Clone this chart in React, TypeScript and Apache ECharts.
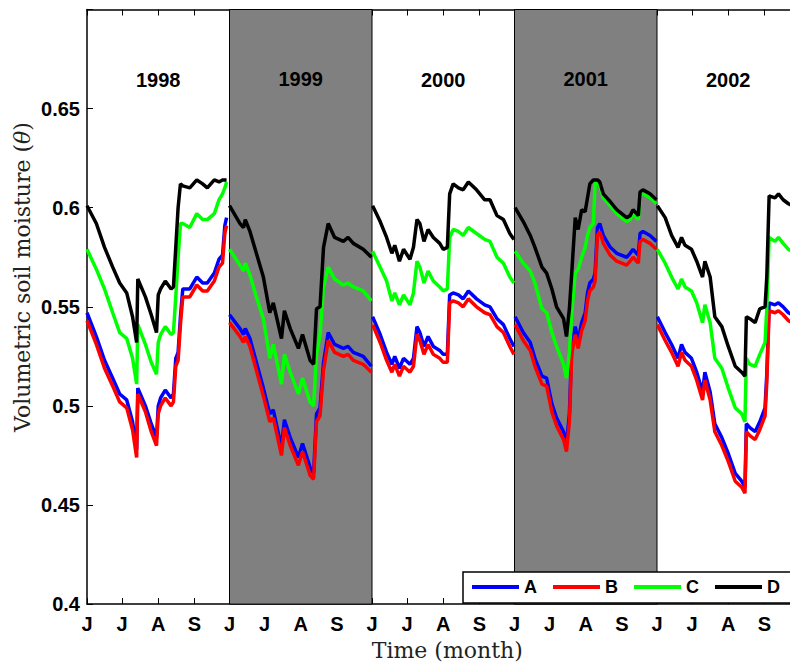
import React, { useEffect, useRef } from 'react';
import * as echarts from 'echarts';

const years = ['1998', '1999', '2000', '2001', '2002'];
const shadedYears = ['1999', '2001'];
const SEASON_DAYS = 122; // 1 June – 30 September
const monthTickDays = [0, 30, 61, 92];
const monthLetters = ['J', 'J', 'A', 'S'];
const seriesNames = ['A', 'B', 'C', 'D'];
const seriesColors = ['#0000ff', '#ff0000', '#00ff00', '#000000'];
const yTicks = [0.4, 0.45, 0.5, 0.55, 0.6, 0.65];

// days since 1 June for each year's readings
const days1998 = [0, 8, 15, 22, 28, 34, 39, 42.5, 43.5, 50, 55, 59.5, 61, 63, 67, 72, 74, 76, 78, 80, 82, 88, 94, 99, 103, 109, 113, 116, 118, 119.5];
const a1998 = [0.547, 0.535, 0.523, 0.514, 0.506, 0.503, 0.492, 0.478, 0.509, 0.500, 0.491, 0.484, 0.500, 0.504, 0.508, 0.504, 0.506, 0.524, 0.527, 0.545, 0.559, 0.559, 0.565, 0.562, 0.562, 0.567, 0.574, 0.576, 0.591, 0.595];
const b1998 = [0.543, 0.531, 0.519, 0.510, 0.502, 0.499, 0.488, 0.474, 0.506, 0.497, 0.487, 0.480, 0.496, 0.500, 0.504, 0.500, 0.502, 0.520, 0.523, 0.541, 0.555, 0.555, 0.561, 0.558, 0.558, 0.563, 0.570, 0.572, 0.587, 0.591];
const c1998 = [0.579, 0.569, 0.559, 0.547, 0.537, 0.534, 0.524, 0.511, 0.541, 0.531, 0.522, 0.516, 0.532, 0.536, 0.540, 0.536, 0.537, 0.555, 0.575, 0.592, 0.592, 0.590, 0.597, 0.594, 0.594, 0.597, 0.604, 0.607, 0.610, 0.613];
const d1998 = [0.601, 0.592, 0.580, 0.570, 0.562, 0.557, 0.545, 0.532, 0.564, 0.555, 0.546, 0.537, 0.556, 0.559, 0.563, 0.559, 0.560, 0.580, 0.600, 0.612, 0.611, 0.610, 0.614, 0.612, 0.610, 0.614, 0.613, 0.614, 0.614, 0.614];

const days1999 = [0, 9, 12, 13.5, 17.5, 23, 29, 34.5, 37.5, 44.5, 47, 52, 59, 62.5, 69, 72, 74.5, 77.5, 80.5, 84.5, 90, 97.5, 101.5, 106, 114.5, 121.5];
const a1999 = [0.546, 0.539, 0.536, 0.539, 0.534, 0.522, 0.509, 0.496, 0.498, 0.479, 0.493, 0.484, 0.474, 0.481, 0.469, 0.466, 0.496, 0.499, 0.522, 0.537, 0.531, 0.529, 0.530, 0.527, 0.525, 0.520];
const b1999 = [0.542, 0.535, 0.532, 0.535, 0.530, 0.518, 0.505, 0.492, 0.494, 0.475, 0.489, 0.480, 0.470, 0.477, 0.465, 0.463, 0.492, 0.495, 0.518, 0.533, 0.527, 0.525, 0.526, 0.523, 0.521, 0.517];
const c1999 = [0.579, 0.571, 0.568, 0.572, 0.566, 0.555, 0.544, 0.524, 0.531, 0.511, 0.526, 0.517, 0.506, 0.514, 0.502, 0.500, 0.526, 0.536, 0.560, 0.570, 0.564, 0.561, 0.562, 0.560, 0.558, 0.553];
const d1999 = [0.601, 0.592, 0.590, 0.594, 0.588, 0.577, 0.565, 0.547, 0.552, 0.534, 0.548, 0.539, 0.529, 0.536, 0.523, 0.521, 0.549, 0.550, 0.580, 0.592, 0.585, 0.583, 0.585, 0.582, 0.579, 0.575];

const days2000 = [0.5, 7, 12.5, 17, 19.5, 23.5, 27, 32.5, 35.5, 38.5, 41, 44.5, 48, 52.5, 58, 61, 64.5, 66.5, 69.5, 74, 78, 82.5, 89.5, 96.5, 101, 107, 112.5, 118, 121.5];
const a2000 = [0.545, 0.536, 0.527, 0.521, 0.525, 0.519, 0.524, 0.521, 0.524, 0.540, 0.537, 0.530, 0.535, 0.530, 0.528, 0.526, 0.526, 0.556, 0.557, 0.556, 0.554, 0.558, 0.554, 0.551, 0.550, 0.544, 0.541, 0.534, 0.530];
const b2000 = [0.541, 0.532, 0.523, 0.517, 0.521, 0.515, 0.520, 0.517, 0.520, 0.536, 0.533, 0.526, 0.531, 0.526, 0.524, 0.522, 0.522, 0.552, 0.553, 0.552, 0.550, 0.554, 0.550, 0.547, 0.546, 0.540, 0.537, 0.530, 0.526];
const c2000 = [0.578, 0.570, 0.563, 0.553, 0.557, 0.551, 0.556, 0.551, 0.557, 0.573, 0.570, 0.562, 0.568, 0.563, 0.560, 0.558, 0.559, 0.585, 0.589, 0.588, 0.586, 0.590, 0.587, 0.584, 0.583, 0.575, 0.572, 0.565, 0.562];
const d2000 = [0.601, 0.593, 0.585, 0.577, 0.581, 0.573, 0.579, 0.574, 0.580, 0.594, 0.592, 0.583, 0.589, 0.585, 0.582, 0.579, 0.580, 0.607, 0.612, 0.610, 0.609, 0.613, 0.609, 0.604, 0.604, 0.596, 0.594, 0.587, 0.584];

const days2001 = [0.5, 7.5, 13.5, 17.5, 23.5, 27.5, 32, 36, 42, 44.5, 47, 49, 52, 54.5, 57.5, 60.5, 62.5, 64.5, 67.5, 69, 71, 73, 76, 82, 87.5, 96, 99, 101.5, 106, 107.5, 110, 116, 121.5];
const a2001 = [0.545, 0.537, 0.532, 0.524, 0.515, 0.514, 0.501, 0.494, 0.487, 0.481, 0.496, 0.530, 0.540, 0.533, 0.542, 0.547, 0.557, 0.562, 0.564, 0.567, 0.590, 0.592, 0.586, 0.580, 0.577, 0.575, 0.577, 0.579, 0.576, 0.587, 0.588, 0.586, 0.583];
const b2001 = [0.541, 0.533, 0.528, 0.520, 0.511, 0.510, 0.497, 0.490, 0.483, 0.477, 0.492, 0.526, 0.536, 0.529, 0.538, 0.543, 0.553, 0.558, 0.560, 0.563, 0.586, 0.588, 0.582, 0.576, 0.573, 0.571, 0.573, 0.575, 0.572, 0.583, 0.584, 0.582, 0.579];
const c2001 = [0.578, 0.572, 0.568, 0.562, 0.549, 0.547, 0.537, 0.530, 0.521, 0.514, 0.527, 0.547, 0.567, 0.569, 0.575, 0.580, 0.586, 0.590, 0.592, 0.612, 0.613, 0.611, 0.605, 0.601, 0.597, 0.593, 0.594, 0.597, 0.594, 0.606, 0.607, 0.605, 0.602];
const d2001 = [0.600, 0.593, 0.586, 0.580, 0.570, 0.567, 0.559, 0.550, 0.544, 0.535, 0.549, 0.567, 0.595, 0.589, 0.599, 0.598, 0.605, 0.612, 0.614, 0.614, 0.614, 0.613, 0.607, 0.603, 0.599, 0.595, 0.596, 0.599, 0.596, 0.608, 0.609, 0.607, 0.604];

const days2002 = [0.3, 7, 12.5, 18, 21, 24, 29.5, 34, 39, 41, 45.5, 49.5, 55.5, 61, 67, 72.5, 75.3, 76.5, 79.5, 84, 88, 92.5, 94, 96, 101, 104, 108, 112.5, 116];
const a2002 = [0.545, 0.537, 0.531, 0.524, 0.531, 0.527, 0.524, 0.517, 0.507, 0.517, 0.507, 0.491, 0.484, 0.476, 0.466, 0.462, 0.459, 0.491, 0.489, 0.487, 0.492, 0.499, 0.516, 0.552, 0.551, 0.552, 0.550, 0.547, 0.546];
const b2002 = [0.541, 0.533, 0.527, 0.520, 0.527, 0.523, 0.520, 0.513, 0.503, 0.513, 0.503, 0.487, 0.480, 0.472, 0.462, 0.459, 0.456, 0.487, 0.485, 0.483, 0.488, 0.495, 0.512, 0.548, 0.547, 0.548, 0.546, 0.543, 0.542];
const c2002 = [0.579, 0.572, 0.565, 0.559, 0.564, 0.560, 0.558, 0.552, 0.542, 0.551, 0.542, 0.524, 0.519, 0.509, 0.499, 0.496, 0.492, 0.524, 0.521, 0.520, 0.526, 0.532, 0.549, 0.585, 0.583, 0.585, 0.582, 0.579, 0.578];
const d2002 = [0.601, 0.595, 0.586, 0.580, 0.585, 0.581, 0.579, 0.573, 0.565, 0.573, 0.565, 0.545, 0.540, 0.530, 0.520, 0.517, 0.515, 0.545, 0.544, 0.542, 0.549, 0.550, 0.565, 0.606, 0.605, 0.607, 0.604, 0.602, 0.601];

const yearDays = [days1998, days1999, days2000, days2001, days2002];
const seriesValues = [
  [a1998, a1999, a2000, a2001, a2002],
  [b1998, b1999, b2000, b2001, b2002],
  [c1998, c1999, c2000, c2001, c2002],
  [d1998, d1999, d2000, d2001, d2002],
];

const SANS = "'Liberation Sans', Arial, Helvetica, sans-serif";
const SERIF = "'DejaVu Serif', 'Liberation Serif', serif";

function buildData(perYear: number[][]) {
  const out: any[] = [];
  perYear.forEach((vals, i) => {
    const ds = yearDays[i];
    vals.forEach((v, k) => out.push([i * SEASON_DAYS + ds[k], v]));
    if (i < perYear.length - 1) out.push([(i + 1) * SEASON_DAYS, '-']);
  });
  return out;
}

const labelValues: number[] = [];
years.forEach((_, i) => monthTickDays.forEach((d) => labelValues.push(i * SEASON_DAYS + d)));
const tickValues: number[] = [...labelValues, years.length * SEASON_DAYS];

export default function App() {
  const ref = useRef<HTMLDivElement>(null);
  useEffect(() => {
    if (!ref.current) return;
    const chart = echarts.init(ref.current, null, { renderer: 'svg' });
    const xMax = years.length * SEASON_DAYS;
    const markData = years.map((y, i) => {
      const shaded = shadedYears.includes(y);
      return [
        {
          name: y,
          xAxis: i * SEASON_DAYS,
          yAxis: 0.4,
          itemStyle: shaded
            ? { color: '#808080', borderColor: '#000', borderWidth: 1 }
            : { color: 'rgba(0,0,0,0)', borderWidth: 0 },
        },
        { xAxis: (i + 1) * SEASON_DAYS, yAxis: 0.7 },
      ];
    });
    const labelFmt = (v: number) => {
      const d = Math.round(v) % SEASON_DAYS;
      const idx = monthTickDays.indexOf(d);
      return idx >= 0 ? monthLetters[idx] : '';
    };
    const option: any = {
      animation: false,
      backgroundColor: '#fff',
      grid: { left: 87, width: 712.5, top: 9.5, height: 603, containLabel: false },
      xAxis: [
        {
          type: 'value',
          min: 0,
          max: xMax,
          position: 'bottom',
          name: 'Time (month)',
          nameLocation: 'middle',
          nameGap: 32,
          nameTextStyle: { fontFamily: SERIF, fontSize: 22, color: '#222', padding: [0, 0, 0, 8] },
          axisLine: { show: true, lineStyle: { color: '#000', width: 1.5 } },
          axisTick: { show: true, inside: true, length: 6, customValues: tickValues, lineStyle: { color: '#000', width: 1 } },
          axisLabel: {
            show: true,
            customValues: labelValues,
            formatter: labelFmt,
            margin: 10,
            fontFamily: SANS,
            fontWeight: 'bold',
            fontSize: 20,
            color: '#000',
          },
          splitLine: { show: false },
        },
        {
          type: 'value',
          min: 0,
          max: xMax,
          position: 'top',
          axisLine: { show: true, lineStyle: { color: '#000', width: 1.5 } },
          axisTick: { show: true, inside: true, length: 6, customValues: tickValues, lineStyle: { color: '#000', width: 1 } },
          axisLabel: { show: false },
          splitLine: { show: false },
        },
      ],
      yAxis: {
        type: 'value',
        min: 0.4,
        max: 0.7,
        interval: 0.05,
        axisLine: { show: true, lineStyle: { color: '#000', width: 1.5 } },
        axisTick: { show: true, inside: true, length: 6, lineStyle: { color: '#000', width: 1 } },
        axisLabel: {
          margin: 7,
          fontFamily: SANS,
          fontWeight: 'bold',
          fontSize: 20,
          color: '#000',
          formatter: (v: number) => {
            const r = Math.round(v * 100) / 100;
            return yTicks.some((t) => Math.abs(t - r) < 1e-6) ? String(r) : '';
          },
        },
        splitLine: { show: false },
      },
      legend: {
        data: seriesNames,
        left: 463,
        top: 572,
        width: 360,
        orient: 'horizontal',
        icon: 'rect',
        itemWidth: 47,
        itemHeight: 4,
        itemGap: 16,
        padding: [6, 16, 7, 9],
        backgroundColor: '#fff',
        borderColor: '#000',
        borderWidth: 1.5,
        borderRadius: 0,
        textStyle: { fontFamily: SANS, fontWeight: 'bold', fontSize: 18, color: '#000' },
      },
      graphic: [
        {
          type: 'text',
          x: 22,
          y: 277,
          rotation: Math.PI / 2,
          silent: true,
          style: {
            text: '{n|Volumetric soil moisture (}{i|θ}{n|)}',
            textAlign: 'center',
            textVerticalAlign: 'middle',
            rich: {
              n: { fontFamily: SERIF, fontSize: 22, fill: '#222' },
              i: { fontFamily: SERIF, fontSize: 22, fontStyle: 'italic', fill: '#222' },
            },
          },
        },
      ],
      series: seriesNames.map((name, si) => {
        const s: any = {
          name,
          type: 'line',
          xAxisIndex: 0,
          data: buildData(seriesValues[si]),
          showSymbol: false,
          symbol: 'none',
          connectNulls: false,
          color: seriesColors[si],
          lineStyle: { color: seriesColors[si], width: 3.5 },
          silent: true,
          z: 2 + si,
        };
        if (si === 0) {
          s.markArea = {
            silent: true,
            label: {
              show: true,
              position: 'insideTop',
              offset: [0, 55],
              formatter: '{b}',
              fontFamily: SANS,
              fontWeight: 'bold',
              fontSize: 20,
              color: '#000',
            },
            data: markData,
          };
        }
        return s;
      }),
    };
    chart.setOption(option);
    return () => chart.dispose();
  }, []);
  return (
    <div style={{ position: 'fixed', left: 0, top: 0, width: 790, height: 666, overflow: 'hidden', background: '#fff' }}>
      <div ref={ref} style={{ position: 'absolute', left: 0, top: 0, width: 820, height: 666 }} />
    </div>
  );
}
